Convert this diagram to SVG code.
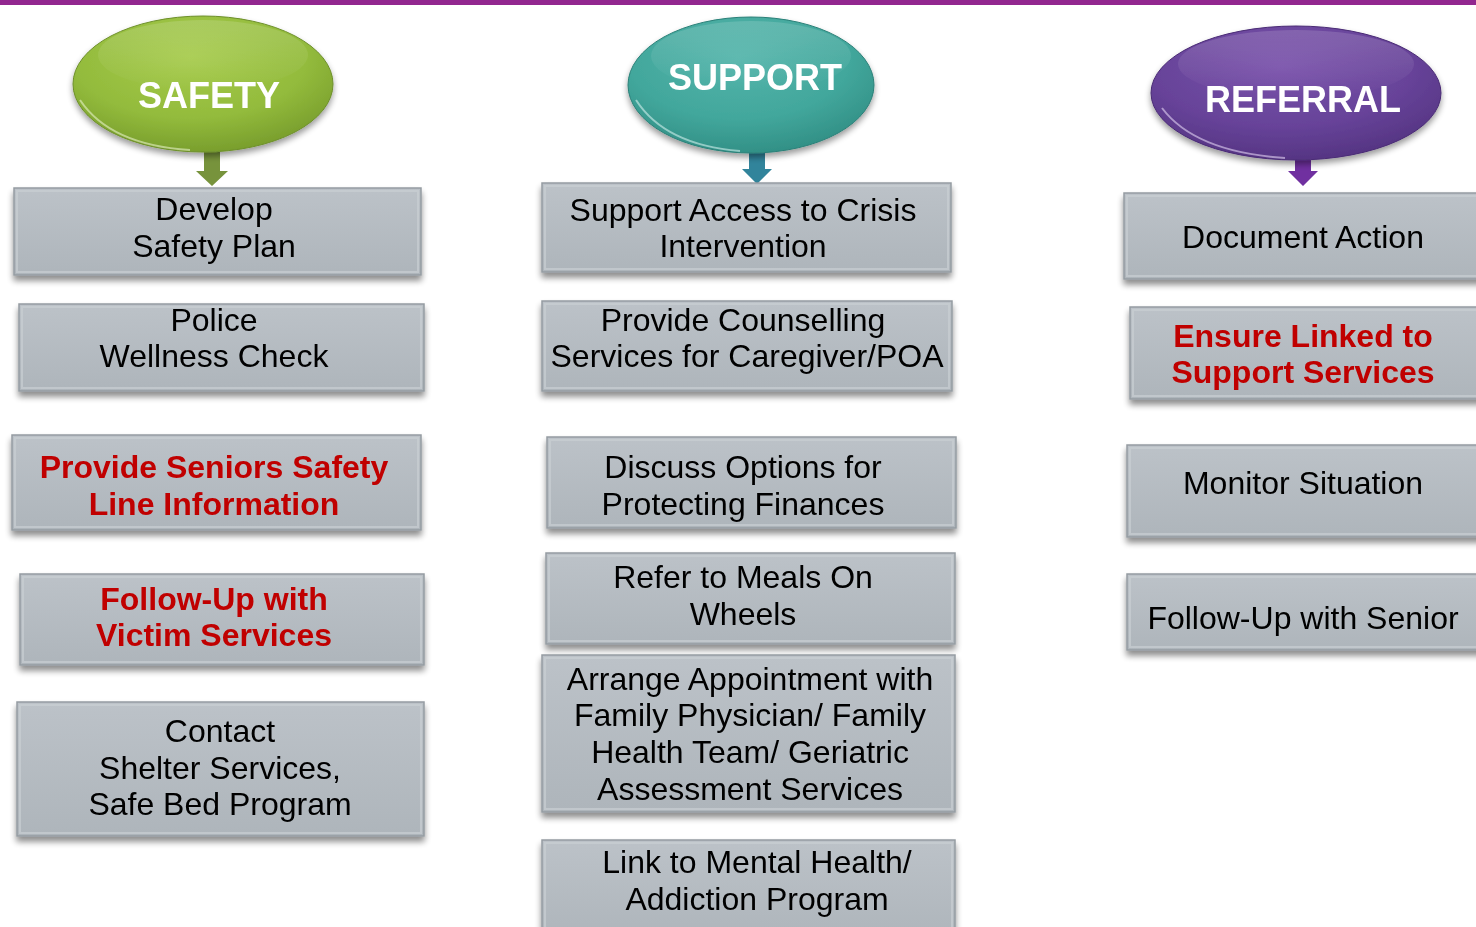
<svg xmlns="http://www.w3.org/2000/svg" width="1476" height="927" viewBox="0 0 1476 927">
<defs>
<style>
.box{fill:url(#gBox);stroke:#959ca2;stroke-width:1.5}
.bev{fill:none;stroke:#c9ced3;stroke-width:2;opacity:0.7}
.t{font-family:"Liberation Sans",Arial,sans-serif;font-size:32px;fill:#000;text-anchor:middle}
.r{font-family:"Liberation Sans",Arial,sans-serif;font-size:32px;font-weight:bold;fill:#c00000;text-anchor:middle}
.h{font-family:"Liberation Sans",Arial,sans-serif;font-size:36px;font-weight:bold;fill:#fff;text-anchor:middle}
</style>
<linearGradient id="gBox" x1="0" y1="0" x2="0" y2="1">
<stop offset="0" stop-color="#bcc2c8"/>
<stop offset="1" stop-color="#aeb5bb"/>
</linearGradient>
<radialGradient id="gGreen" cx="0.45" cy="0.3" r="0.75">
<stop offset="0" stop-color="#a6cb4c"/>
<stop offset="0.6" stop-color="#93bb3c"/>
<stop offset="1" stop-color="#74992a"/>
</radialGradient>
<radialGradient id="gTeal" cx="0.45" cy="0.3" r="0.75">
<stop offset="0" stop-color="#52b4aa"/>
<stop offset="0.6" stop-color="#42a79c"/>
<stop offset="1" stop-color="#2f8c82"/>
</radialGradient>
<radialGradient id="gPurple" cx="0.45" cy="0.3" r="0.75">
<stop offset="0" stop-color="#7850aa"/>
<stop offset="0.6" stop-color="#674399"/>
<stop offset="1" stop-color="#52327f"/>
</radialGradient>
<linearGradient id="gShine" x1="0" y1="0" x2="0" y2="1">
<stop offset="0" stop-color="#fff" stop-opacity="0.15"/>
<stop offset="1" stop-color="#fff" stop-opacity="0"/>
</linearGradient>
<filter id="sh" x="-5%" y="-10%" width="110%" height="130%">
<feGaussianBlur in="SourceAlpha" stdDeviation="3"/>
<feOffset dy="5" result="b"/>
<feComponentTransfer><feFuncA type="linear" slope="0.45"/></feComponentTransfer>
<feMerge><feMergeNode/><feMergeNode in="SourceGraphic"/></feMerge>
</filter>
<filter id="esh" x="-10%" y="-10%" width="120%" height="130%">
<feGaussianBlur in="SourceAlpha" stdDeviation="3"/>
<feOffset dy="4"/>
<feComponentTransfer><feFuncA type="linear" slope="0.4"/></feComponentTransfer>
<feMerge><feMergeNode/><feMergeNode in="SourceGraphic"/></feMerge>
</filter>
</defs>
<rect x="0" y="0" width="1476" height="927" fill="#fff"/>
<rect x="0" y="0" width="1476" height="5" fill="#92278f"/>

<g id="connectors">
<path d="M204 152 H220 V171 H228 L212 186 L196 171 H204 Z" fill="#77933c"/>
<path d="M749 153 H765 V169 H772 L757 184 L742 169 H749 Z" fill="#31849b"/>
<path d="M1295 160 H1311 V171 H1318 L1303 186 L1288 171 H1295 Z" fill="#7030a0"/>
</g>

<g id="safety" filter="url(#esh)">
<ellipse cx="203" cy="84" rx="130" ry="68" fill="url(#gGreen)" stroke="#6d8f2a" stroke-width="1"/>
<ellipse cx="203" cy="55" rx="105" ry="35" fill="url(#gShine)"/>
<path d="M80 100 Q110 145 190 150" fill="none" stroke="#e6f2c8" stroke-width="2" opacity="0.6"/>
<text class="h" x="209" y="108">SAFETY</text>
</g>
<g id="support" filter="url(#esh)">
<ellipse cx="751" cy="85" rx="123" ry="68" fill="url(#gTeal)" stroke="#2b8078" stroke-width="1"/>
<ellipse cx="751" cy="56" rx="100" ry="35" fill="url(#gShine)"/>
<path d="M636 100 Q665 145 740 151" fill="none" stroke="#d2f0ec" stroke-width="2" opacity="0.6"/>
<text class="h" x="755" y="90">SUPPORT</text>
</g>
<g id="referral" filter="url(#esh)">
<ellipse cx="1296" cy="93" rx="145" ry="67" fill="url(#gPurple)" stroke="#4a2c75" stroke-width="1"/>
<ellipse cx="1296" cy="64" rx="118" ry="34" fill="url(#gShine)"/>
<path d="M1162 108 Q1195 152 1285 158" fill="none" stroke="#e2d4f3" stroke-width="2" opacity="0.6"/>
<text class="h" x="1303" y="112">REFERRAL</text>
</g>

<!-- Safety column -->
<g id="s1" filter="url(#sh)"><rect class="box" x="14" y="188" width="407" height="87"/><rect class="bev" x="17" y="191" width="401" height="81"/>
<text class="t" x="214" y="220">Develop</text><text class="t" x="214" y="257">Safety Plan</text></g>
<g id="s2" filter="url(#sh)"><rect class="box" x="19" y="304" width="405" height="87"/><rect class="bev" x="22" y="307" width="399" height="81"/>
<text class="t" x="214" y="331">Police</text><text class="t" x="214" y="367">Wellness Check</text></g>
<g id="s3" filter="url(#sh)"><rect class="box" x="12" y="435" width="409" height="95"/><rect class="bev" x="15" y="438" width="403" height="89"/>
<text class="r" x="214" y="478">Provide Seniors Safety</text><text class="r" x="214" y="515">Line Information</text></g>
<g id="s4" filter="url(#sh)"><rect class="box" x="20" y="574" width="404" height="91"/><rect class="bev" x="23" y="577" width="398" height="85"/>
<text class="r" x="214" y="610">Follow-Up with</text><text class="r" x="214" y="646">Victim Services</text></g>
<g id="s5" filter="url(#sh)"><rect class="box" x="17" y="702" width="407" height="134"/><rect class="bev" x="20" y="705" width="401" height="128"/>
<text class="t" x="220" y="742">Contact</text><text class="t" x="220" y="779">Shelter Services,</text><text class="t" x="220" y="815">Safe Bed Program</text></g>

<!-- Support column -->
<g id="m1" filter="url(#sh)"><rect class="box" x="542" y="183" width="409" height="89"/><rect class="bev" x="545" y="186" width="403" height="83"/>
<text class="t" x="743" y="221">Support Access to Crisis</text><text class="t" x="743" y="257">Intervention</text></g>
<g id="m2" filter="url(#sh)"><rect class="box" x="542" y="301" width="410" height="90"/><rect class="bev" x="545" y="304" width="404" height="84"/>
<text class="t" x="743" y="331">Provide Counselling</text><text class="t" x="747" y="367">Services for Caregiver/POA</text></g>
<g id="m3" filter="url(#sh)"><rect class="box" x="547" y="437" width="409" height="91"/><rect class="bev" x="550" y="440" width="403" height="85"/>
<text class="t" x="743" y="478">Discuss Options for</text><text class="t" x="743" y="515">Protecting Finances</text></g>
<g id="m4" filter="url(#sh)"><rect class="box" x="546" y="553" width="409" height="91"/><rect class="bev" x="549" y="556" width="403" height="85"/>
<text class="t" x="743" y="588">Refer to Meals On</text><text class="t" x="743" y="625">Wheels</text></g>
<g id="m5" filter="url(#sh)"><rect class="box" x="542" y="655" width="413" height="157"/><rect class="bev" x="545" y="658" width="407" height="151"/>
<text class="t" x="750" y="690">Arrange Appointment with</text><text class="t" x="750" y="726">Family Physician/ Family</text><text class="t" x="750" y="763">Health Team/ Geriatric</text><text class="t" x="750" y="800">Assessment Services</text></g>
<g id="m6" filter="url(#sh)"><rect class="box" x="542" y="840" width="413" height="100"/><rect class="bev" x="545" y="843" width="407" height="94"/>
<text class="t" x="757" y="873">Link to Mental Health/</text><text class="t" x="757" y="910">Addiction Program</text></g>

<!-- Referral column -->
<g id="r1" filter="url(#sh)"><rect class="box" x="1124" y="193" width="370" height="86"/><rect class="bev" x="1127" y="196" width="364" height="80"/>
<text class="t" x="1303" y="248">Document Action</text></g>
<g id="r2" filter="url(#sh)"><rect class="box" x="1130" y="307" width="364" height="92"/><rect class="bev" x="1133" y="310" width="358" height="86"/>
<text class="r" x="1303" y="347">Ensure Linked to</text><text class="r" x="1303" y="383">Support Services</text></g>
<g id="r3" filter="url(#sh)"><rect class="box" x="1127" y="445" width="367" height="92"/><rect class="bev" x="1130" y="448" width="361" height="86"/>
<text class="t" x="1303" y="494">Monitor Situation</text></g>
<g id="r4" filter="url(#sh)"><rect class="box" x="1127" y="574" width="367" height="76"/><rect class="bev" x="1130" y="577" width="361" height="70"/>
<text class="t" x="1303" y="629">Follow-Up with Senior</text></g>
</svg>
